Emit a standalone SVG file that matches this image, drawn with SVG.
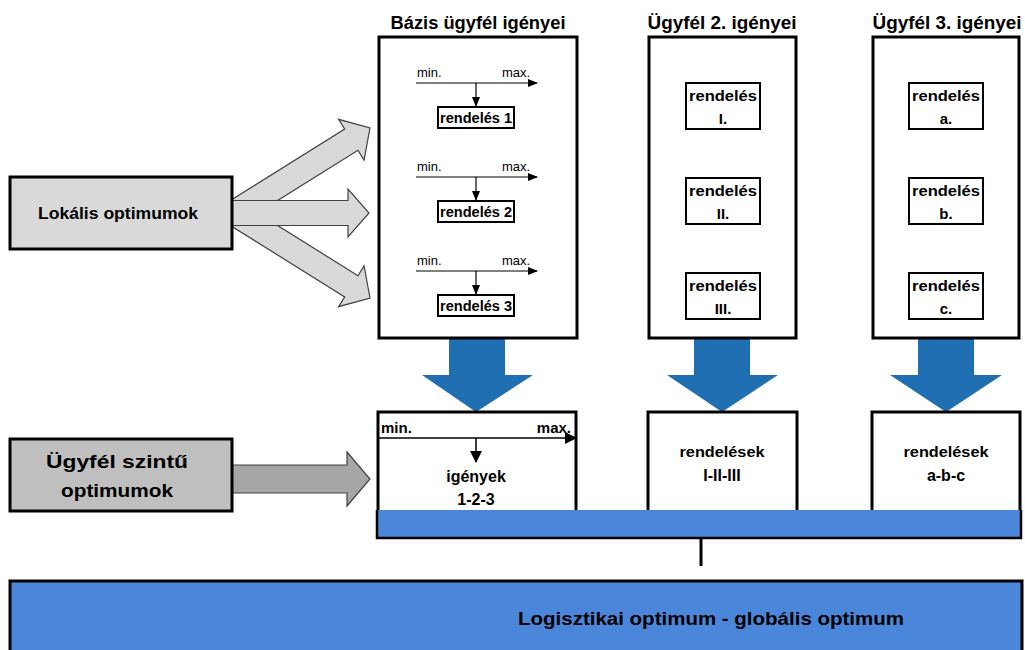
<svg xmlns="http://www.w3.org/2000/svg" width="1025" height="650" viewBox="0 0 1025 650">
<defs>
<marker id="ah" markerWidth="10" markerHeight="8" refX="9" refY="4" orient="auto" markerUnits="userSpaceOnUse"><path d="M0,0 L10,4 L0,8 Z" fill="#000"/></marker>
<marker id="ahL" markerWidth="12" markerHeight="12" refX="11" refY="6" orient="auto" markerUnits="userSpaceOnUse"><path d="M0,0 L12,6 L0,12 Z" fill="#000"/></marker>
<style>
text{font-family:"Liberation Sans",Arial,sans-serif;fill:#000;}
.b{font-weight:bold;}
.hd{font-size:18px;font-weight:bold;text-anchor:middle;}
.big{fill:#fff;stroke:#000;stroke-width:3;}
.ord{fill:#fff;stroke:#000;stroke-width:2;}
.ot{font-size:14px;font-weight:bold;text-anchor:middle;}
.ot2{font-size:15px;font-weight:bold;text-anchor:middle;}
.ot3{font-size:16px;font-weight:bold;text-anchor:middle;}
.mm{font-size:13px;}
.ax{stroke:#000;stroke-width:1.2;fill:none;}
.garr{fill:#d9d9d9;stroke:#404040;stroke-width:1.2;}
.darr{fill:#a6a6a6;stroke:#404040;stroke-width:1.2;}
.blu{fill:#1f6fb2;}
.lbl{font-size:17px;font-weight:bold;text-anchor:middle;}
.lbl2{font-size:18px;font-weight:bold;text-anchor:middle;}
</style>
</defs>

<g id="connectors">
  <polygon class="garr" transform="translate(370,128) rotate(-32)" points="-163,-12.5 -22,-12.5 -22,-24 0,0 -22,24 -22,12.5 -163,12.5"/>
  <polygon class="garr" transform="translate(370,298) rotate(32)" points="-163,-12.5 -22,-12.5 -22,-24 0,0 -22,24 -22,12.5 -163,12.5"/>
  <polygon class="garr" transform="translate(369,213)" points="-137,-12.5 -21,-12.5 -21,-24 0,0 -21,24 -21,12.5 -137,12.5"/>
  <polygon class="darr" points="232,465 347,465 347,452 370,479 347,506 347,493 232,493"/>
  <polygon class="blu" points="449,338 505,338 505,375 533,375 476,412 422,375 449,375"/>
  <polygon class="blu" points="694,338 750,338 750,375 778,375 722,412 667,375 694,375"/>
  <polygon class="blu" points="918,338 974,338 974,375 1002,375 946,412 890,375 918,375"/>
  <line x1="701" y1="538" x2="701" y2="566" stroke="#000" stroke-width="3"/>
</g>

<g id="lokalis">
  <rect x="10" y="177" width="222" height="72" fill="#d9d9d9" stroke="#000" stroke-width="3"/>
  <text class="lbl" x="118" y="219" textLength="160" lengthAdjust="spacingAndGlyphs">Lokális optimumok</text>
</g>

<g id="ugyfel-szintu">
  <rect x="10" y="439" width="222" height="72" fill="#bfbfbf" stroke="#000" stroke-width="3"/>
  <text class="lbl2" x="117" y="468" textLength="142" lengthAdjust="spacingAndGlyphs">Ügyfél szintű</text>
  <text class="lbl2" x="117" y="497" textLength="112" lengthAdjust="spacingAndGlyphs">optimumok</text>
</g>

<g id="bazis">
  <text class="hd" x="478" y="29" textLength="175" lengthAdjust="spacingAndGlyphs">Bázis ügyfél igényei</text>
  <rect class="big" x="379" y="37" width="198" height="301"/>
  <text class="mm" x="417" y="77">min.</text>
  <text class="mm" x="502" y="77">max.</text>
  <line class="ax" x1="416" y1="83" x2="537" y2="83" marker-end="url(#ah)"/>
  <line class="ax" x1="476" y1="83" x2="476" y2="106" marker-end="url(#ah)"/>
  <rect class="ord" x="438" y="107" width="76" height="21"/>
  <text class="ot" x="476" y="123" textLength="72" lengthAdjust="spacingAndGlyphs">rendelés 1</text>

  <text class="mm" x="417" y="171">min.</text>
  <text class="mm" x="502" y="171">max.</text>
  <line class="ax" x1="416" y1="177" x2="537" y2="177" marker-end="url(#ah)"/>
  <line class="ax" x1="476" y1="177" x2="476" y2="200" marker-end="url(#ah)"/>
  <rect class="ord" x="438" y="201" width="76" height="21"/>
  <text class="ot" x="476" y="217" textLength="72" lengthAdjust="spacingAndGlyphs">rendelés 2</text>

  <text class="mm" x="417" y="265">min.</text>
  <text class="mm" x="502" y="265">max.</text>
  <line class="ax" x1="416" y1="271" x2="537" y2="271" marker-end="url(#ah)"/>
  <line class="ax" x1="476" y1="271" x2="476" y2="294" marker-end="url(#ah)"/>
  <rect class="ord" x="438" y="295" width="76" height="21"/>
  <text class="ot" x="476" y="311" textLength="72" lengthAdjust="spacingAndGlyphs">rendelés 3</text>
</g>

<g id="ugyfel2">
  <text class="hd" x="722" y="29" textLength="149" lengthAdjust="spacingAndGlyphs">Ügyfél 2. igényei</text>
  <rect class="big" x="649" y="37" width="147" height="301"/>
  <rect class="ord" x="686" y="83" width="74" height="46"/>
  <text class="ot2" x="723" y="101" textLength="68" lengthAdjust="spacingAndGlyphs">rendelés</text>
  <text class="ot2" x="723" y="124">I.</text>
  <rect class="ord" x="686" y="178" width="74" height="46"/>
  <text class="ot2" x="723" y="196" textLength="68" lengthAdjust="spacingAndGlyphs">rendelés</text>
  <text class="ot2" x="723" y="219">II.</text>
  <rect class="ord" x="686" y="273" width="74" height="46"/>
  <text class="ot2" x="723" y="291" textLength="68" lengthAdjust="spacingAndGlyphs">rendelés</text>
  <text class="ot2" x="723" y="314">III.</text>
</g>

<g id="ugyfel3">
  <text class="hd" x="947" y="29" textLength="149" lengthAdjust="spacingAndGlyphs">Ügyfél 3. igényei</text>
  <rect class="big" x="873" y="37" width="146" height="301"/>
  <rect class="ord" x="909" y="83" width="74" height="46"/>
  <text class="ot2" x="946" y="101" textLength="68" lengthAdjust="spacingAndGlyphs">rendelés</text>
  <text class="ot2" x="946" y="124">a.</text>
  <rect class="ord" x="909" y="178" width="74" height="46"/>
  <text class="ot2" x="946" y="196" textLength="68" lengthAdjust="spacingAndGlyphs">rendelés</text>
  <text class="ot2" x="946" y="219">b.</text>
  <rect class="ord" x="909" y="273" width="74" height="46"/>
  <text class="ot2" x="946" y="291" textLength="68" lengthAdjust="spacingAndGlyphs">rendelés</text>
  <text class="ot2" x="946" y="314">c.</text>
</g>

<g id="igenyek-123">
  <rect class="big" x="378" y="412" width="198" height="100"/>
  <text class="b" x="381" y="433" font-size="15">min.</text>
  <text class="b" x="571" y="433" font-size="15" text-anchor="end">max.</text>
  <line x1="379" y1="438" x2="576" y2="438" stroke="#000" stroke-width="1.5" marker-end="url(#ahL)"/>
  <line x1="476" y1="438" x2="476" y2="462" stroke="#000" stroke-width="1.5" marker-end="url(#ahL)"/>
  <text class="ot3" x="476" y="482">igények</text>
  <text class="ot3" x="476" y="505">1-2-3</text>
</g>

<g id="rendelesek-123">
  <rect class="big" x="648" y="412" width="149" height="100"/>
  <text class="ot2" x="722" y="457" textLength="85" lengthAdjust="spacingAndGlyphs">rendelések</text>
  <text class="ot3" x="722" y="481">I-II-III</text>
</g>

<g id="rendelesek-abc">
  <rect class="big" x="872" y="412" width="148" height="100"/>
  <text class="ot2" x="946" y="457" textLength="85" lengthAdjust="spacingAndGlyphs">rendelések</text>
  <text class="ot3" x="946" y="481">a-b-c</text>
</g>

<g id="gyujto-sav">
  <rect x="377" y="510" width="644" height="28" fill="#4a87db"/>
  <path d="M377,510 L377,538 L1021,538 L1021,510" fill="none" stroke="#000" stroke-width="2.5"/>
</g>

<g id="globalis">
  <rect x="10" y="581" width="1012" height="80" fill="#4a87db" stroke="#000" stroke-width="3"/>
  <text class="b" x="711" y="625" font-size="19" text-anchor="middle" textLength="386" lengthAdjust="spacingAndGlyphs">Logisztikai optimum - globális optimum</text>
</g>
</svg>
